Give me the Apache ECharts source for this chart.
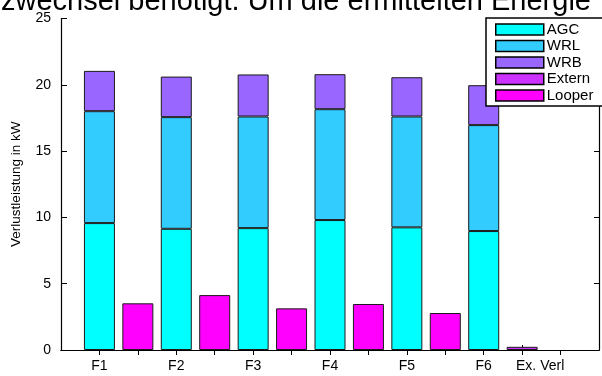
<!DOCTYPE html>
<html>
<head>
    <meta charset="utf-8">
    <title>Verlustleistung</title>
    <script src="https://cdn.jsdelivr.net/npm/echarts@6/dist/echarts.min.js"></script>
    <style>
        html, body { margin: 0; padding: 0; background: #fff; }
    </style>
</head>
<body>
    <div id="main" style="width: 602px;height:376px;"></div>
    <script type="text/javascript">
        var myChart = echarts.init(document.getElementById('main'));

        // data (kW)
        var categories = ['F1', 'F2', 'F3', 'F4', 'F5', 'F6', 'Ex. Verl'];
        var agc    = [9.57, 9.14, 9.19, 9.80, 9.25, 8.97];
        var wrl    = [8.44, 8.42, 8.42, 8.36, 8.36, 7.99];
        var wrb    = [3.04, 3.06, 3.17, 2.64, 2.96, 3.01];
        var looper = [3.52, 4.14, 3.14, 3.47, 2.79];
        var extern = [0.24];
        var yTicks = [0, 5, 10, 15, 20, 25];

        var font = 'Liberation Sans, Arial, sans-serif';

        // x axis is a row of slots: 0 and 14 are the plot edges,
        // each F-group takes two slots (stacked bar, looper bar), then Ex. Verl
        var nSlots = 2 * agc.length + 3;
        var slots = [];
        for (var s = 0; s < nSlots; s++) slots.push(String(s));

        function spread(arr, offset) {
            var out = slots.map(function () { return '-'; });
            arr.forEach(function (v, i) { out[2 * i + offset] = v; });
            return out;
        }
        var externData = slots.map(function () { return '-'; });
        externData[2 * agc.length] = extern[0];

        var labelAt = {};
        categories.forEach(function (c, i) {
            labelAt[i < agc.length ? 2 * i + 1 : 2 * agc.length] = c;
        });

        function barSeries(name, data, color, stack) {
            return {
                name: name,
                type: 'bar',
                stack: stack,
                barWidth: 31,
                barGap: '-100%',
                data: data,
                itemStyle: { color: color, borderColor: '#1a1a1a', borderWidth: 1 },
                emphasis: { disabled: true }
            };
        }

        var xBase = {
            type: 'category',
            data: slots,
            boundaryGap: false,
            splitLine: { show: false },
            axisLine: { lineStyle: { color: '#000', width: 1.2 } }
        };

        var option = {
            animation: false,
            title: {
                text: 'zwechsel benötigt. Um die ermittelten Energie',
                left: -4,
                top: -18,
                textStyle: { fontFamily: font, fontSize: 29, fontWeight: 'normal', color: '#000' }
            },
            legend: {
                orient: 'vertical',
                left: 486,
                top: 18,
                padding: [4, 30, 3, 9],
                itemWidth: 48,
                itemHeight: 11,
                itemGap: 1.5,
                backgroundColor: '#fff',
                borderColor: '#000',
                borderWidth: 1.5,
                borderRadius: 0,
                icon: 'rect',
                itemStyle: { borderColor: '#000', borderWidth: 1.5 },
                textStyle: { fontFamily: font, fontSize: 15, color: '#000', padding: [0, 0, 0, -2] },
                data: ['AGC', 'WRL', 'WRB', 'Extern', 'Looper']
            },
            grid: { left: 61, right: -2, top: 18.5, bottom: 26 },
            xAxis: [Object.assign({}, xBase, {
                position: 'bottom',
                axisTick: {
                    inside: true, length: 5, lineStyle: { color: '#000' },
                    interval: function (i) { return i > 0 && i <= 2 * agc.length; }
                },
                axisLabel: {
                    interval: 0,
                    margin: 9,
                    fontFamily: font,
                    fontSize: 14,
                    color: '#000',
                    formatter: function (v, i) {
                        var t = labelAt[i] || '';
                        if (i === 2 * agc.length) return '{ex|' + t + '}';
                        return t;
                    },
                    rich: { ex: { fontFamily: font, fontSize: 14, color: '#000', padding: [0, 0, 0, 36] } }
                }
            }), Object.assign({}, xBase, {
                position: 'top',
                axisTick: {
                    inside: true, length: 5, lineStyle: { color: '#000' },
                    interval: function (i) { return i > 0 && i < nSlots - 1; }
                },
                axisLabel: { show: false }
            })],
            yAxis: [{
                type: 'value',
                min: yTicks[0],
                max: yTicks[yTicks.length - 1],
                interval: 5,
                name: 'Verlustleistung in kW',
                nameLocation: 'middle',
                nameGap: 38,
                nameTextStyle: { fontFamily: font, fontSize: 13.5, color: '#000' },
                splitLine: { show: false },
                axisLine: { show: true, lineStyle: { color: '#000', width: 1.2 } },
                axisTick: { show: true, inside: true, length: 6, lineStyle: { color: '#000' } },
                axisLabel: { fontFamily: font, fontSize: 14, color: '#000', margin: 10 }
            }, {
                type: 'value',
                position: 'right',
                min: yTicks[0],
                max: yTicks[yTicks.length - 1],
                interval: 5,
                splitLine: { show: false },
                axisLine: { show: true, lineStyle: { color: '#000', width: 1.2 } },
                axisTick: { show: true, inside: true, length: 5, lineStyle: { color: '#000' } },
                axisLabel: { show: false }
            }],
            series: [
                barSeries('AGC', spread(agc, 1), '#00ffff', 'verl'),
                barSeries('WRL', spread(wrl, 1), '#33ccff', 'verl'),
                barSeries('WRB', spread(wrb, 1), '#9966ff', 'verl'),
                barSeries('Looper', spread(looper, 2), '#ff00ff', 'loop'),
                barSeries('Extern', externData, '#cc33ff', 'ext')
            ]
        };

        myChart.setOption(option);
    </script>
</body>
</html>
